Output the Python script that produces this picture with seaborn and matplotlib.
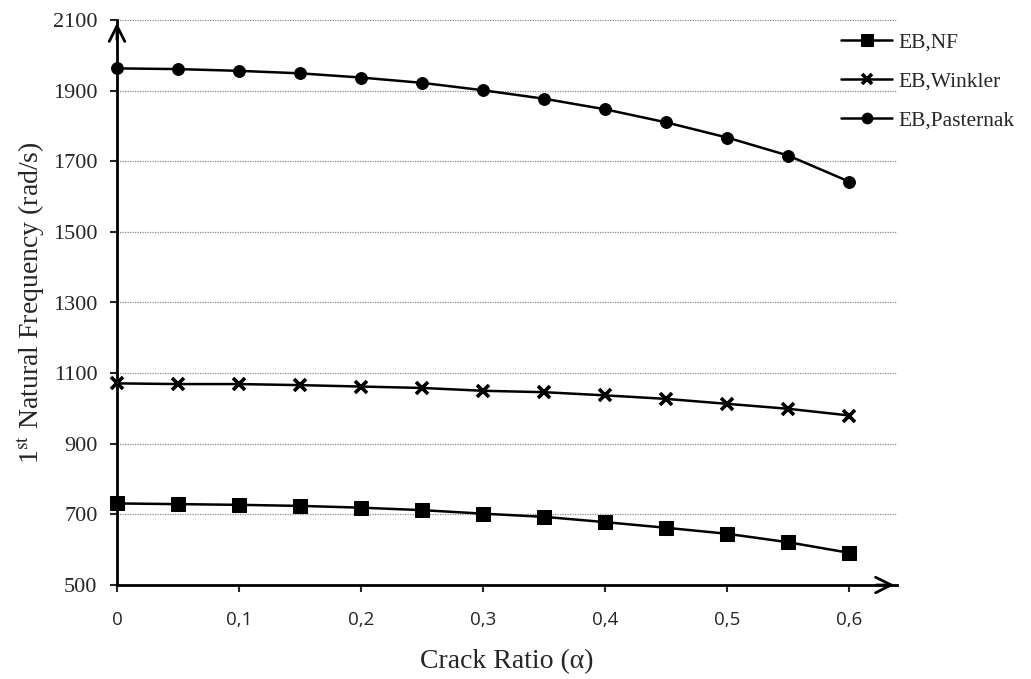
import numpy as np
import pandas as pd
import matplotlib
matplotlib.use("Agg")
import matplotlib.pyplot as plt
import seaborn as sns

# crack ratio values
crack_ratio = [0, 0.05, 0.1, 0.15, 0.2, 0.25, 0.3, 0.35, 0.4, 0.45, 0.5, 0.55, 0.6]

# 1st natural frequency (rad/s)
eb_nf = [731, 729, 727, 724, 719, 712, 702, 693, 678, 662, 645, 621, 591]
eb_winkler = [1071, 1069, 1069, 1066, 1062, 1058, 1050, 1046, 1037, 1027, 1013, 999, 980]
eb_pasternak = [1963, 1961, 1956, 1949, 1937, 1922, 1901, 1877, 1847, 1810, 1767, 1716, 1642]

series_names = ["EB,NF", "EB,Winkler", "EB,Pasternak"]
y_ticks = [500, 700, 900, 1100, 1300, 1500, 1700, 1900, 2100]
x_ticks = [0, 0.1, 0.2, 0.3, 0.4, 0.5, 0.6]
x_tick_labels = ["0", "0,1", "0,2", "0,3", "0,4", "0,5", "0,6"]

df = pd.DataFrame({
    "ratio": crack_ratio * 3,
    "freq": eb_nf + eb_winkler + eb_pasternak,
    "series": [n for n in series_names for _ in crack_ratio],
})

sns.set_style("white")
plt.rcParams["font.family"] = ["Liberation Serif", "DejaVu Serif"]
plt.rcParams["mathtext.fontset"] = "stix"

fig = plt.figure(figsize=(10.31, 6.79), dpi=100)
ax = fig.add_axes([117 / 1031, 1 - 585 / 679, (897 - 117) / 1031, (585 - 20) / 679])

markers = {"EB,NF": "s", "EB,Winkler": "X", "EB,Pasternak": "o"}
sns.lineplot(data=df, x="ratio", y="freq", hue="series", style="series",
             hue_order=series_names, style_order=series_names,
             palette=["black"] * 3, markers=markers, dashes=False,
             linewidth=1.8, ax=ax, legend=False)

# tweak marker look per series
for line, name in zip(ax.get_lines(), series_names):
    if name == "EB,NF":
        line.set_marker("s")
        line.set_markersize(9.5)
    elif name == "EB,Winkler":
        line.set_marker("x")
        line.set_markersize(8)
        line.set_markeredgewidth(2.6)
    else:
        line.set_marker("o")
        line.set_markersize(8.5)
    line.set_markerfacecolor("black")
    line.set_markeredgecolor("black")
    line.set_clip_on(False)

ax.set_xlim(0, 0.639)
ax.set_ylim(500, 2100)
ax.set_yticks(y_ticks)
ax.set_xticks(x_ticks)
ax.set_xticklabels(x_tick_labels, fontfamily="Open Sans", fontsize=13.5)
ax.tick_params(axis="y", labelsize=16, length=5, width=1.5, direction="out", pad=9)
ax.tick_params(axis="x", length=5, width=1.5, direction="out", pad=14)
ax.tick_params(left=True, bottom=True)

ax.grid(axis="y", color="#8a8a8a", linestyle=(0, (1, 1)), linewidth=0.9)
ax.grid(axis="x", visible=False)

for side in ["top", "right"]:
    ax.spines[side].set_visible(False)
for side in ["left", "bottom"]:
    ax.spines[side].set_linewidth(2)
    ax.spines[side].set_color("black")

# arrow heads on axes
ax.annotate("", xy=(1.0, 0), xytext=(0.97, 0), xycoords="axes fraction",
            arrowprops=dict(arrowstyle="->", color="black", lw=2, mutation_scale=28))
ax.annotate("", xy=(0, 1.0), xytext=(0, 0.96), xycoords="axes fraction",
            arrowprops=dict(arrowstyle="->", color="black", lw=2, mutation_scale=28))

ax.set_xlabel("Crack Ratio (α)", fontsize=20, labelpad=14)
ax.set_ylabel(r"1$^{\mathrm{st}}$ Natural Frequency (rad/s)", fontsize=20, labelpad=4)

# legend outside top right
handles = ax.get_lines()[:3]
fig.legend(handles, series_names, loc="upper left",
           bbox_to_anchor=(841 / 1031, 1 - 32 / 679), frameon=False,
           fontsize=15.5, handlelength=2.37, handletextpad=0.28, labelspacing=0.9,
           borderpad=0, borderaxespad=0, markerscale=0.9)

fig.savefig("out.png", dpi=100)
